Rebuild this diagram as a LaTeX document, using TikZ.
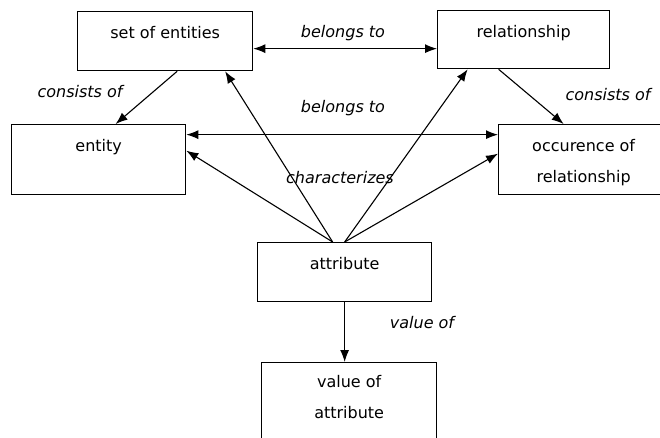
\documentclass[tikz,border=0pt]{standalone}
\usepackage{fontspec}
\setmainfont{DejaVu Sans}
\usetikzlibrary{arrows.meta}
\tikzset{
  box/.style={draw, line width=1.3pt, anchor=north west, inner sep=0pt, align=center,
    text height=27pt, font=\fontsize{16}{31}\selectfont},
  lbl/.style={font=\fontsize{16}{19}\selectfont\itshape, inner sep=1pt},
  link/.style={line width=1.1pt, -{Latex[length=12pt,width=9pt]}},
  both/.style={link, {Latex[length=12pt,width=9pt]}-{Latex[length=12pt,width=9pt]}},
}
\begin{document}
\begin{tikzpicture}[x=1pt,y=-1pt]
    \useasboundingbox (0,0) rectangle (660,437);
    \clip (0,0) rectangle (660,437);
    % boxes
    \node[box, minimum width=175pt, text depth=32pt] (set) at (77,11) {set of entities};
    \node[box, minimum width=172pt, text depth=31pt] (rel) at (437,10) {relationship};
    \node[box, minimum width=174pt, text depth=43pt] (ent) at (11,124) {entity};
    \node[box, minimum width=170pt, text height=58pt, text depth=12pt] (occ) at (498,124) {occurence of\\relationship};
    \node[box, minimum width=174pt, text depth=32pt] (attr) at (257,242) {attribute};
    \node[box, minimum width=175pt, text height=56pt, text depth=30pt] (val) at (261,362) {value of\\attribute};
    % connectors
    \draw[both] ([yshift=-7.5pt]set.east) -- ([yshift=-9pt]rel.west);
    \draw[both] ([yshift=25pt]ent.east) -- ([yshift=25pt]occ.west);
    \draw[link] ([xshift=12pt]set.south) -- ([xshift=17pt]ent.north);
    \draw[link] ([xshift=-25pt]rel.south) -- ([xshift=-20pt]occ.north);
    \draw[link] ([xshift=-12pt]attr.north) -- ([yshift=9pt]ent.east);
    \draw[link] ([xshift=-12pt]attr.north) -- ([xshift=60pt]set.south);
    \draw[link] (attr.north) -- ([xshift=-56pt]rel.south);
    \draw[link] (attr.north) -- ([yshift=6pt]occ.west);
    \draw[link] (attr.south) -- (attr.south |- val.north);
    % labels
    \node[lbl] (belongs1) at (343,33) {belongs to};
    \node[lbl] (belongs2) at (343,108) {belongs to};
    \node[lbl] (consists1) at (80,92) {consists of};
    \node[lbl] (consists2) at (608,95) {consists of};
    \node[lbl] (charact) at (340,178) {characterizes};
    \node[lbl] (valueof) at (422,323) {value of};
\end{tikzpicture}
\end{document}
